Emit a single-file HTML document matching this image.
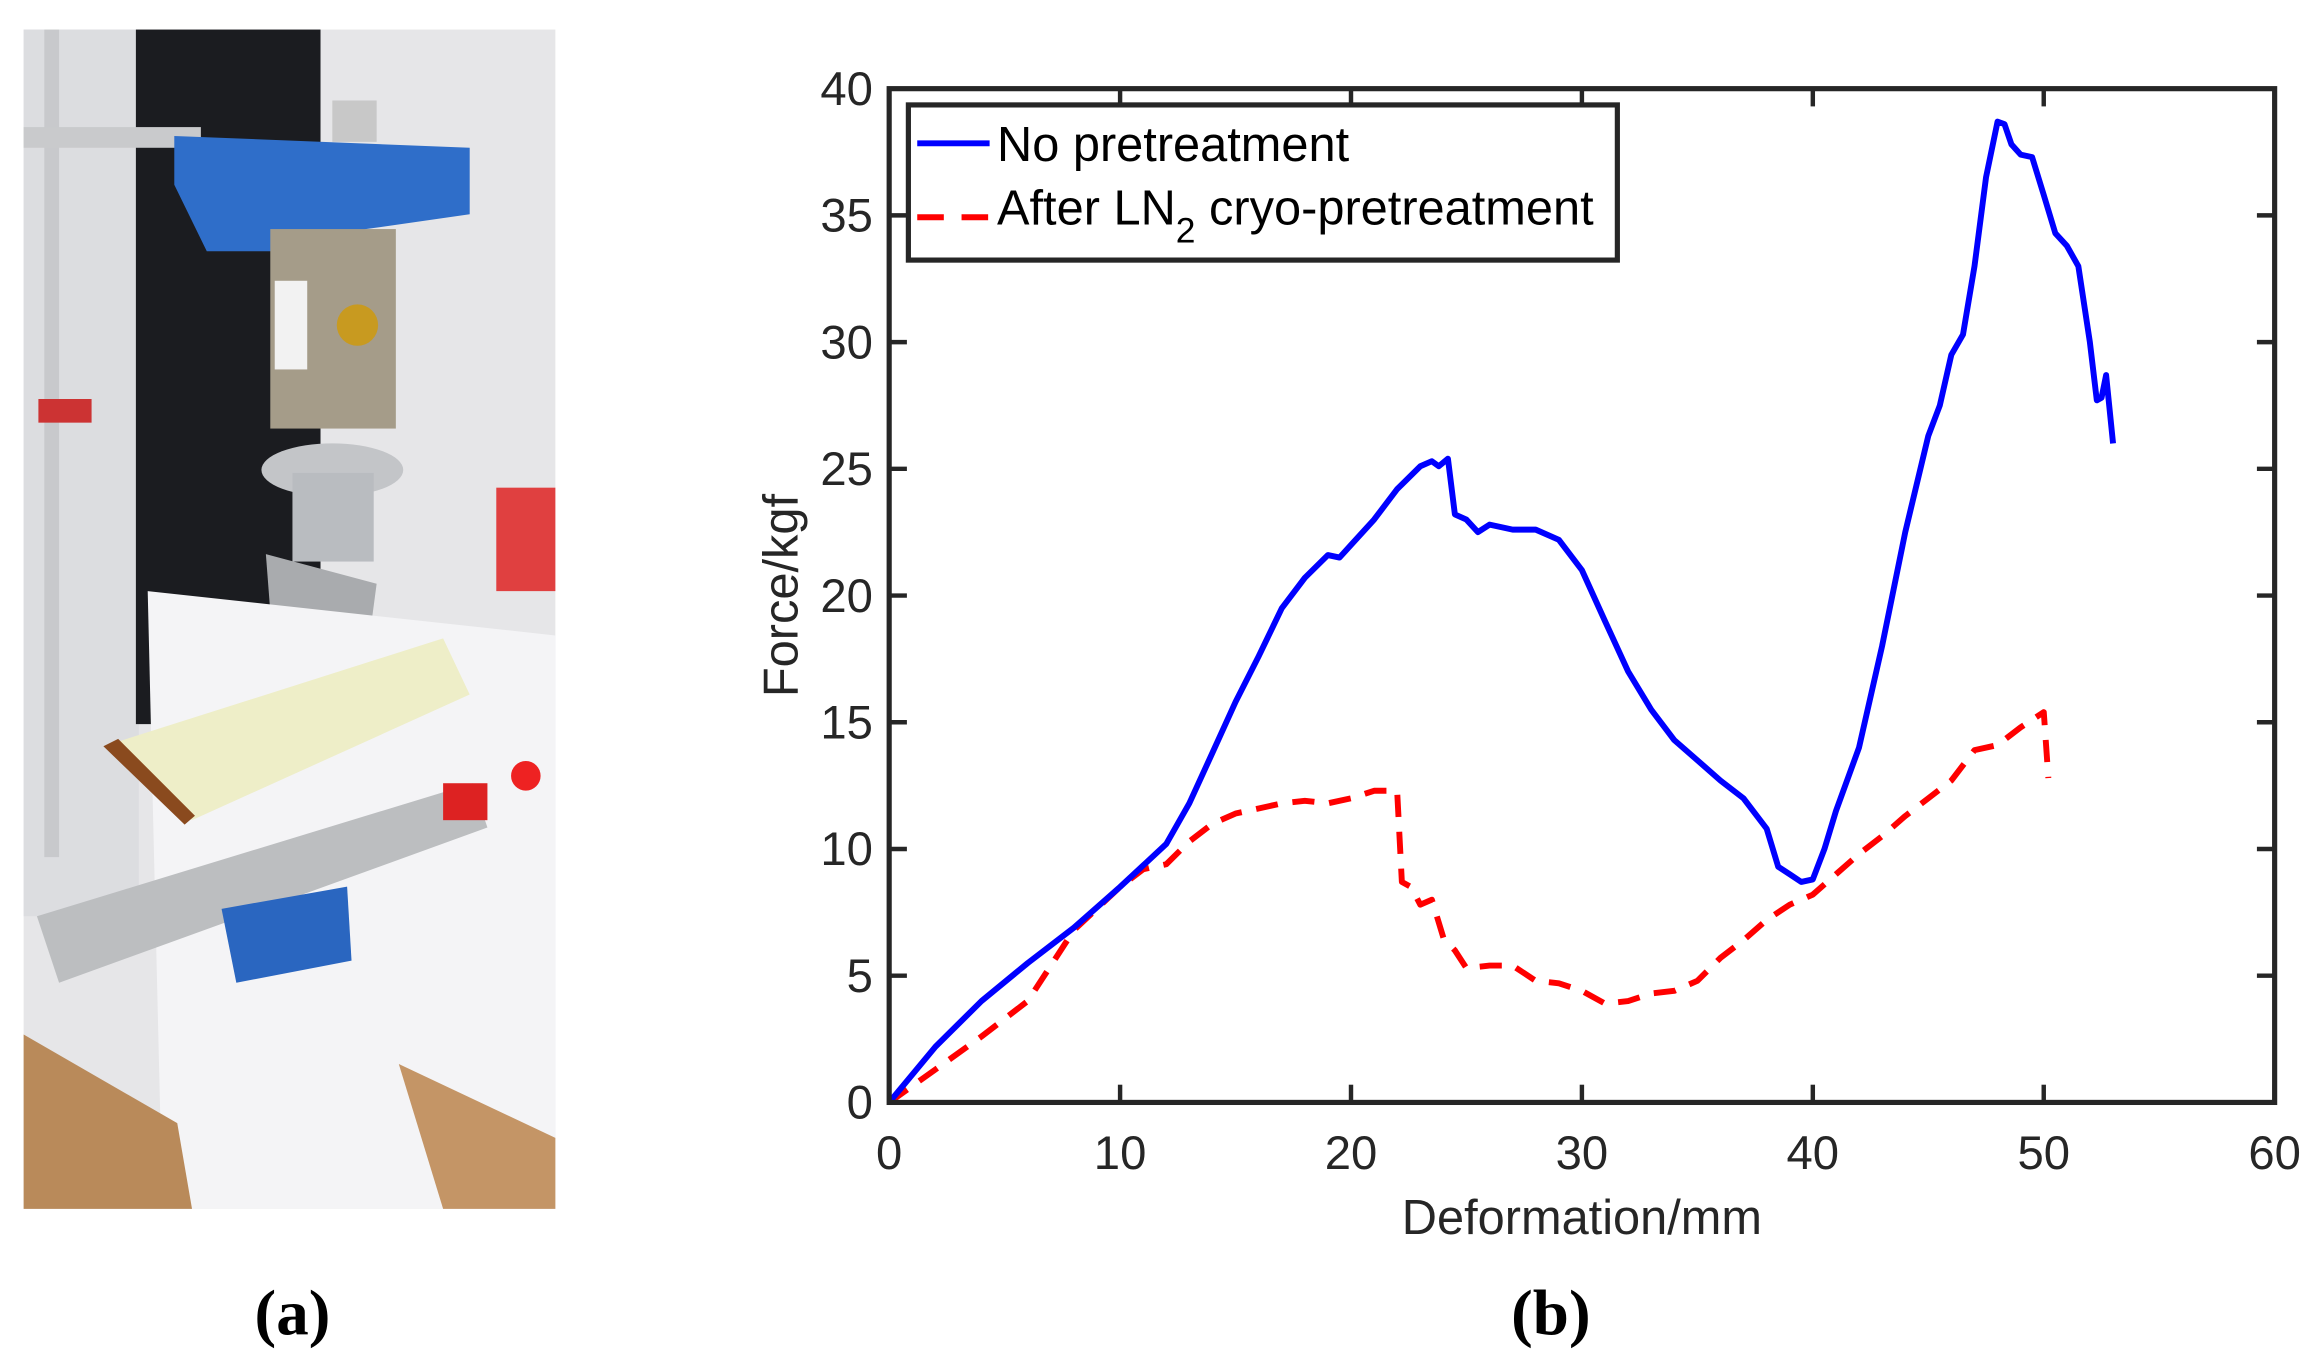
<!DOCTYPE html>
<html><head><meta charset="utf-8"><style>
html,body{margin:0;padding:0;background:#fff;}
svg{display:block;}
text{font-family:"Liberation Sans",sans-serif;}
</style></head><body>
<svg id="fig" width="2316" height="1364" viewBox="0 0 1568 923" preserveAspectRatio="none" xmlns="http://www.w3.org/2000/svg">
<g>
  <rect x="16" y="20" width="360" height="798" fill="#e6e6e8"/>
  <rect x="16" y="20" width="78" height="600" fill="#dcdde0"/>
  <rect x="30" y="20" width="10" height="560" fill="#c8c9cc"/>
  <rect x="92" y="20" width="125" height="470" fill="#1b1c20"/>
  <rect x="16" y="86" width="120" height="14" fill="#c9cacc"/>
  <polygon points="118,92 318,100 318,145 248,155 190,170 140,170 118,125" fill="#2f6ec9"/>
  <rect x="225" y="68" width="30" height="28" fill="#c8c8c8"/>
  <rect x="183" y="155" width="85" height="135" fill="#a59c89"/>
  <rect x="186" y="190" width="22" height="60" fill="#f2f2f2"/>
  <circle cx="242" cy="220" r="14" fill="#c89a20"/>
  <ellipse cx="225" cy="318" rx="48" ry="18" fill="#c3c5c8"/>
  <rect x="198" y="320" width="55" height="60" fill="#b9bcc0"/>
  <polygon points="180,375 255,395 245,470 185,440" fill="#a9abae"/>
  <polygon points="100,400 376,430 376,818 110,818" fill="#f4f4f6"/>
  <polygon points="16,700 120,760 130,818 16,818" fill="#b98a5a"/>
  <polygon points="270,720 376,770 376,818 300,818" fill="#c49566"/>
  <polygon points="70,505 300,432 318,470 130,555" fill="#eeeec8"/>
  <polygon points="70,505 80,500 132,552 125,558" fill="#8a4a1e"/>
  <polygon points="25,620 320,530 330,560 40,665" fill="#bcbec0"/>
  <polygon points="150,615 235,600 238,650 160,665" fill="#2a66c0"/>
  <rect x="300" y="530" width="30" height="25" fill="#d22"/>
  <circle cx="356" cy="525" r="10" fill="#e22"/>
  <rect x="26" y="270" width="36" height="16" fill="#c33"/>
  <rect x="336" y="330" width="40" height="70" fill="#e04040"/>
</g>
<text x="198" y="903" text-anchor="middle" font-size="44" font-weight="bold" style="font-family:'Liberation Serif',serif">(a)</text>
<text x="1050" y="903" text-anchor="middle" font-size="44" font-weight="bold" style="font-family:'Liberation Serif',serif">(b)</text>
<g id="chart"></g>
</svg>
<script>
const xTicks=[0,10,20,30,40,50,60];
const yTicks=[0,5,10,15,20,25,30,35,40];
const noPreX=[0,2,4,6,8,10,12,13,14,15,16,17,18,19,19.5,20,21,22,23,23.5,23.8,24.2,24.5,25,25.5,26,26.5,27,28,29,30,31,32,33,34,35,36,37,38,38.5,39,39.5,40,40.5,41,42,43,44,45,45.5,46,46.5,47,47.5,48,48.3,48.6,49,49.5,50,50.5,51,51.5,52,52.3,52.5,52.7,53];
const noPreY=[0,2.2,4,5.5,6.9,8.5,10.2,11.8,13.8,15.8,17.6,19.5,20.7,21.6,21.5,22,23,24.2,25.1,25.3,25.1,25.4,23.2,23,22.5,22.8,22.7,22.6,22.6,22.2,21,19,17,15.5,14.3,13.5,12.7,12,10.8,9.3,9,8.7,8.8,10,11.5,14,18,22.5,26.3,27.5,29.5,30.3,33,36.5,38.7,38.6,37.8,37.4,37.3,35.8,34.3,33.8,33,30,27.7,27.8,28.7,26];
const cryoX=[0,2,4,6,8,10,11,12,13,14,15,16,17,18,19,20,21,22,22.2,22.6,23,23.5,24,24.5,25,26,27,28,29,30,31,32,33,34,35,36,37,38,39,40,41,42,43,44,45,46,47,48,49,50,50.2];
const cryoY=[0,1.3,2.6,4,6.8,8.5,9.2,9.4,10.3,11,11.4,11.6,11.8,11.9,11.8,12,12.3,12.3,8.7,8.5,7.8,8,6.5,6,5.3,5.4,5.4,4.8,4.7,4.4,3.9,4,4.3,4.4,4.8,5.7,6.4,7.2,7.8,8.2,9,9.8,10.5,11.3,12,12.7,13.9,14.1,14.8,15.4,12.8];

const L=602,R=1540,T=60,B=746;
const sx=v=>L+(v-0)/(60-0)*(R-L);
const sy=v=>B-(v-0)/(40-0)*(B-T);
const NS='http://www.w3.org/2000/svg';
const g=document.getElementById('chart');
function mk(tag,attrs,parent){const e=document.createElementNS(NS,tag);for(const k in attrs)e.setAttribute(k,attrs[k]);(parent||g).appendChild(e);return e;}

const bg=mk('rect',{x:L,y:T,width:R-L,height:B-T,fill:'#fff'});



function series(xs,ys,color,dash,name){
  let d='';xs.forEach((x,i)=>{d+=(i?'L':'M')+sx(x).toFixed(1)+','+sy(ys[i]).toFixed(1);});
  const p=mk('path',{d:d,fill:'none',stroke:color,'stroke-width':4,'stroke-linejoin':'round'});
  if(dash)p.setAttribute('stroke-dasharray',dash);
  
  
}
series(cryoX,cryoY,'#ff0000','15 10','line-after-ln2-cryo-pretreatment');
series(noPreX,noPreY,'#0000ff',null,'line-no-pretreatment');

const frame=mk('rect',{x:L,y:T,width:R-L,height:B-T,fill:'none',stroke:'#262626','stroke-width':3.5});



xTicks.forEach(t=>{
  const x=sx(t);
  mk('line',{x1:x,y1:B,x2:x,y2:B-12,stroke:'#262626','stroke-width':3});
  mk('line',{x1:x,y1:T,x2:x,y2:T+12,stroke:'#262626','stroke-width':3});
  const tx=mk('text',{x:x,y:B+45,'text-anchor':'middle','font-size':32,fill:'#262626'});
  tx.textContent=t;
  
  
});
yTicks.forEach(t=>{
  const y=sy(t);
  mk('line',{x1:L,y1:y,x2:L+12,y2:y,stroke:'#262626','stroke-width':3});
  mk('line',{x1:R,y1:y,x2:R-12,y2:y,stroke:'#262626','stroke-width':3});
  const tx=mk('text',{x:L-11,y:y+11,'text-anchor':'end','font-size':32,fill:'#262626'});
  tx.textContent=t;
  
  
});
const xt=mk('text',{x:1071,y:835,'text-anchor':'middle','font-size':33,fill:'#262626'});
xt.textContent='Deformation/mm';


const yt=mk('text',{x:0,y:0,'text-anchor':'middle','font-size':33,fill:'#262626',transform:'translate(540,403) rotate(-90)'});
yt.textContent='Force/kgf';



const lg=mk('g',{});


mk('rect',{x:615,y:71,width:480,height:105,fill:'#fff',stroke:'#262626','stroke-width':3.5},lg);
mk('line',{x1:621,y1:97,x2:670,y2:97,stroke:'#0000ff','stroke-width':4},lg);
mk('line',{x1:621,y1:147,x2:670,y2:147,stroke:'#ff0000','stroke-width':4,'stroke-dasharray':'18 12'},lg);
const l1=mk('text',{x:675,y:109,'font-size':33,fill:'#000'},lg);
l1.textContent='No pretreatment';


const l2=mk('text',{x:675,y:152,'font-size':33,fill:'#000'},lg);
l2.innerHTML='After LN<tspan dy="12" font-size="24">2</tspan><tspan dy="-12"> cryo-pretreatment</tspan>';


</script>
</body></html>
